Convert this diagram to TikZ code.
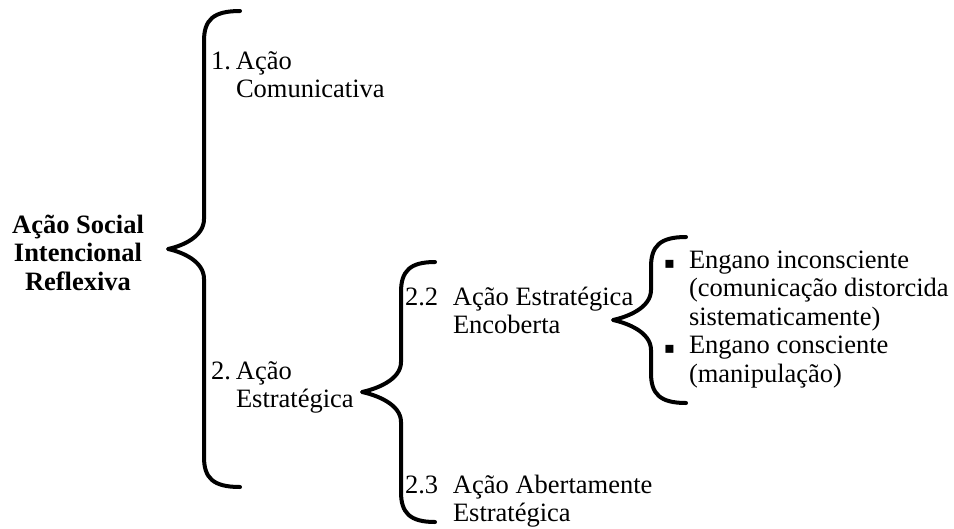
\documentclass[tikz,border=0pt]{standalone}
\usepackage{fontspec}
\setmainfont{Liberation Serif}
\newfontfamily\symfont{DejaVu Sans}
\usepackage{array}

% curly brace: #1 end x, #2 spine x, #3 tip x, #4 top y, #5 tip y, #6 bottom y
\newcommand\curlybrace[6]{%
  \draw[bracestyle] (#1,#4)
    .. controls ({#2+9},#4) and (#2,{#4+9}) .. (#2,{#4+30})
    -- (#2,{#5-30})
    .. controls (#2,{#5-12}) and ({#3+14},{#5-3}) .. (#3,#5)
    .. controls ({#3+14},{#5+3}) and (#2,{#5+12}) .. (#2,{#5+30})
    -- (#2,{#6-30})
    .. controls (#2,{#6-9}) and ({#2+9},#6) .. (#1,#6);}

\newcommand\sqbullet{{\fontsize{16}{16}\symfont ▪}}

\begin{document}
\begin{tikzpicture}[x=1pt,y=-1pt,
  bracestyle/.style={line width=4pt,line cap=round,line join=round},
  txt/.style={inner sep=0pt,outer sep=0pt,font=\fontsize{26.5}{28.5}\selectfont},
  rootstyle/.style={txt,font=\fontsize{26.5}{28.5}\selectfont\bfseries}]
\useasboundingbox (0,0) rectangle (954,528);

% root label
\node[rootstyle,anchor=base] (root) at (78,233)
  {\begin{tabular}[t]{@{}c@{}}Ação Social\\Intencional\\Reflexiva\end{tabular}};

% first level
\node[txt,anchor=base west] (a1) at (211,69)
  {\begin{tabular}[t]{@{}p{25pt}@{}l@{}}1. & Ação\\ & Comunicativa\end{tabular}};
\node[txt,anchor=base west] (a2) at (211,379)
  {\begin{tabular}[t]{@{}p{25pt}@{}l@{}}2. & Ação\\ & Estratégica\end{tabular}};

% second level
\node[txt,anchor=base west] (b22) at (405,305)
  {\begin{tabular}[t]{@{}p{48pt}@{}l@{}}2.2 & Ação Estratégica\\ & Encoberta\end{tabular}};
\node[txt,anchor=base west] (b23) at (405,493)
  {\begin{tabular}[t]{@{}p{48pt}@{}l@{}}2.3 & Ação Abertamente\\ & Estratégica\end{tabular}};

% third level
\node[txt,anchor=base west] (c1) at (664,268)
  {\begin{tabular}[t]{@{}p{25pt}@{}l@{}}\sqbullet & Engano inconsciente\\
     & (comunicação distorcida\\ & sistematicamente)\\
     \sqbullet & Engano consciente\\ & (manipulação)\end{tabular}};

% braces
\curlybrace{240}{204}{168}{11}{249}{487}
\curlybrace{435}{401}{362}{262}{392}{522}
\curlybrace{686}{651}{613}{237}{320}{403}
\end{tikzpicture}
\end{document}
